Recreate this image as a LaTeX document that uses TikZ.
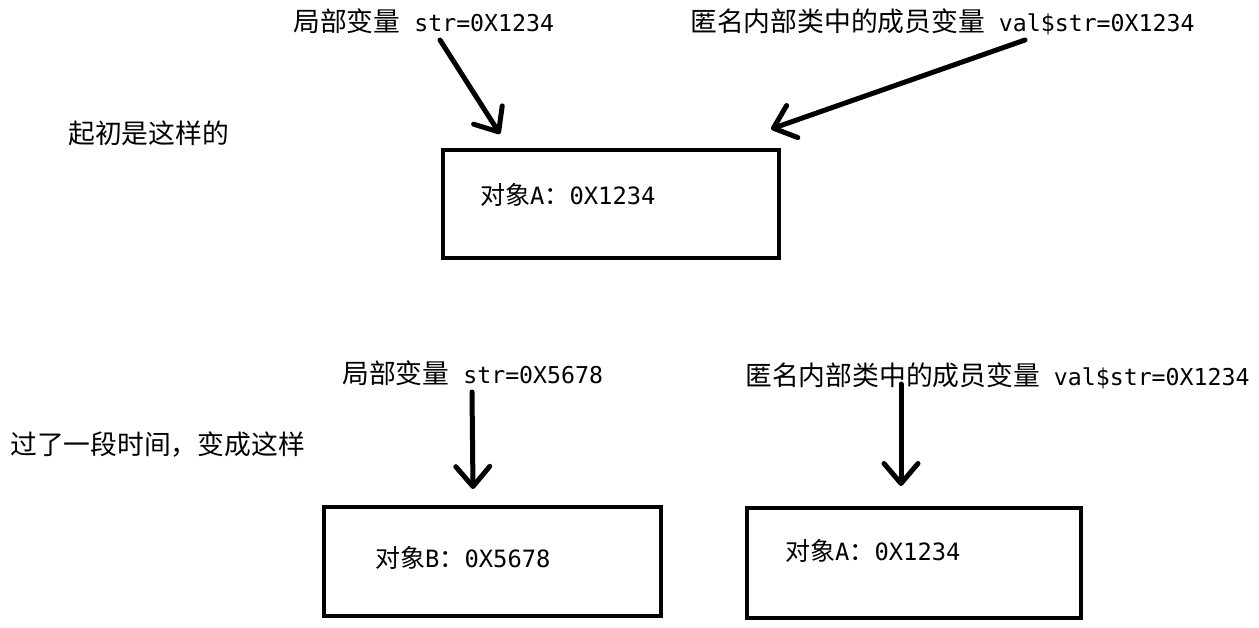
\documentclass[tikz,border=0pt]{standalone}
\usepackage{fontspec}
\usetikzlibrary{arrows.meta,calc}
\newfontfamily\cjkf{Noto Sans CJK SC}
\newfontfamily\monof{DejaVu Sans Mono}
\newcommand\cjkbig{\fontsize{26.8}{31}\selectfont\cjkf}
\newcommand\cjkbox{\fontsize{25}{30}\selectfont\cjkf}
\newcommand\latin{\fontsize{23.2}{28}\selectfont\monof}
\newcommand\latinb{\fontsize{23.8}{28}\selectfont\monof}
\tikzset{
  lbl/.style={anchor=west,inner sep=0pt,font=\cjkbig},
  objbox/.style={draw,line width=4pt,inner sep=0pt,anchor=north west},
  ptr/.style={line width=5pt,line cap=round,-{Straight Barb[length=20pt,width=34pt,round]}},
}
\begin{document}
\begin{tikzpicture}[x=1pt,y=-1pt]
\useasboundingbox[fill=white] (0,0) rectangle (1259,628);
% top part
\node[lbl] (l1) at (293,21) {局部变量{\latin\ str=0X1234}};
\node[lbl] (l2) at (690,22) {匿名内部类中的成员变量{\latin\ val\$str=0X1234}};
\node[lbl] (s1) at (68,133) {起初是这样的};
\node[objbox,minimum width=336pt,minimum height=108pt] (bA) at (441,148) {};
\node[lbl] (tA) at (480,195) {\cjkbox 对象{\latinb A}：{\latinb 0X1234}};
\coordinate (a1s) at (440,40);
\coordinate (a1e) at (500,134);
\coordinate (a2s) at (1025,40);
\coordinate (a2e) at (771,129);
\draw[ptr] (a1s) -- (a1e);
\draw[ptr] (a2s) -- (a2e);
% bottom part
\node[lbl] (s2) at (10,445) {过了一段时间，变成这样};
\node[lbl] (l3) at (342,373) {局部变量{\latin\ str=0X5678}};
\node[lbl] (l4) at (745,376) {匿名内部类中的成员变量{\latin\ val\$str=0X1234}};
\node[objbox,minimum width=337pt,minimum height=109pt] (bB) at (322,505) {};
\node[lbl] (tB) at (375,558) {\cjkbox 对象{\latinb B}：{\latinb 0X5678}};
\node[objbox,minimum width=334pt,minimum height=110pt] (bA2) at (745,506) {};
\node[lbl] (tA2) at (785,551) {\cjkbox 对象{\latinb A}：{\latinb 0X1234}};
\coordinate (a3s) at (472,392);
\coordinate (a3e) at (473,489);
\coordinate (a4s) at (901,384);
\coordinate (a4e) at (901,486);
\draw[ptr] (a3s) -- (a3e);
\draw[ptr] (a4s) -- (a4e);
\end{tikzpicture}
\end{document}
